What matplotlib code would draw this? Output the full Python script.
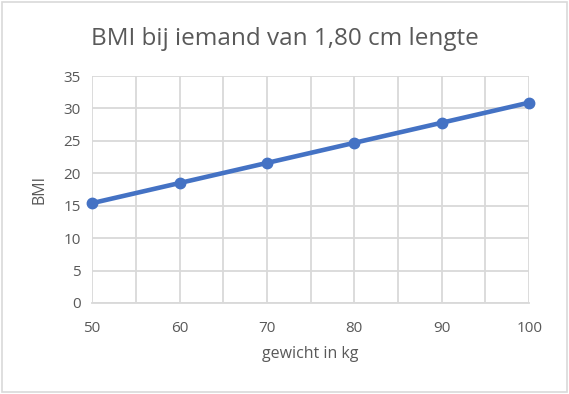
"""BMI chart for someone of 1.80 m."""
import matplotlib
matplotlib.use("Agg")
from matplotlib import pyplot as plt
from matplotlib.patches import Rectangle

weights = [50, 60, 70, 80, 90, 100]
bmi = [15.4, 18.5, 21.6, 24.7, 27.8, 30.9]
x_ticks = [50, 60, 70, 80, 90, 100]
y_ticks = [0, 5, 10, 15, 20, 25, 30, 35]

text_color = '#595959'
grid_color = '#d9d9d9'
line_color = '#4472C4'

plt.rcParams['font.family'] = ['Open Sans', 'DejaVu Sans']

fig = plt.figure(figsize=(5.69, 3.94), dpi=100)
ax = fig.add_axes([0.162, 0.231, 0.768, 0.576])

ax.plot(weights, bmi, color=line_color, linewidth=3.3, marker='o',
        markersize=7.5, solid_capstyle='round', zorder=3, clip_on=False)

ax.set_xlim(50, 100)
ax.set_ylim(0, 35)
ax.set_xticks(x_ticks)
ax.set_xticks(range(55, 100, 10), minor=True)
ax.set_yticks(y_ticks)
ax.grid(True, which='both', color=grid_color, linewidth=1.3)
ax.tick_params(which='both', length=0, colors=text_color, labelsize=11)
ax.tick_params(axis='x', pad=13)
ax.tick_params(axis='y', pad=8)

for side in ['top', 'right', 'left']:
    ax.spines[side].set_visible(False)
ax.spines['bottom'].set_color(grid_color)
ax.spines['bottom'].set_linewidth(1.3)

ax.set_title('BMI bij iemand van 1,80 cm lengte', color=text_color,
             fontsize=17.5, pad=22, x=0.44)
ax.set_xlabel('gewicht in kg', color=text_color, fontsize=11.5, labelpad=7)
ax.set_ylabel('BMI', color=text_color, fontsize=11.5, labelpad=12)

fig.patches.append(Rectangle((0.003, 0.004), 0.994, 0.992, transform=fig.transFigure,
                             fill=False, edgecolor=grid_color, linewidth=1.2))

fig.savefig('out.png', dpi=100)
